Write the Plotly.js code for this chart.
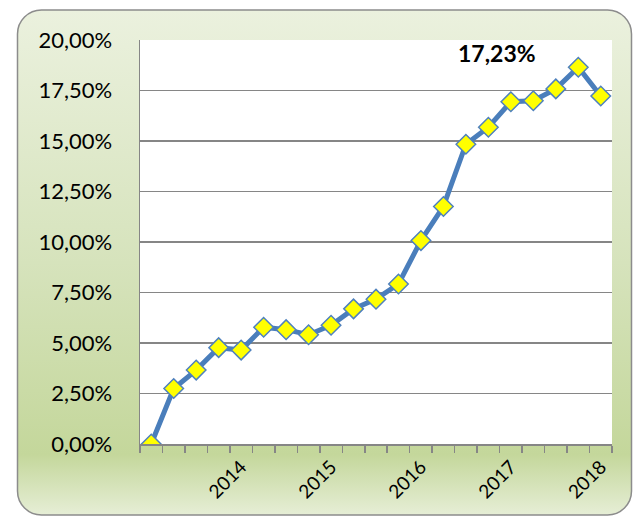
<!DOCTYPE html>
<html>
<head>
<meta charset="utf-8">
<script src="https://cdn.plot.ly/plotly-3.0.1.min.js"></script>
<style>
  html, body { margin: 0; padding: 0; background: #ffffff; }
  #chart { width: 633px; height: 517px; }
</style>
</head>
<body>
<div id="chart"></div>
<script>
// quarterly cumulative return, in percent
const returns = [0, 2.75, 3.66, 4.77, 4.65, 5.78, 5.66, 5.41, 5.88, 6.69, 7.17,
  7.92, 10.07, 11.76, 14.84, 15.68, 16.94, 16.99, 17.58, 18.65, 17.23];
const yearLabels = ['2014', '2015', '2016', '2017', '2018'];
const yearIndex = [4, 8, 12, 16, 20];

const W = 633, H = 517;
const margin = { l: 140, r: 21, t: 40, b: 73 };

const quarters = returns.map((v, i) => i);
const lastValue = returns[returns.length - 1];

/**
 * green gradient frame with rounded corners, drawn as an svg image
 * behind the whole figure
 **/
function frameImage() {
  const svg =
    '<svg xmlns="http://www.w3.org/2000/svg" width="' + W + '" height="' + H + '">' +
    '<defs><linearGradient id="g" x1="0" y1="0" x2="0" y2="1">' +
    '<stop offset="0" stop-color="#ebf1de"/>' +
    '<stop offset="0.5" stop-color="#d6e3bc"/>' +
    '<stop offset="0.88" stop-color="#c4d79b"/>' +
    '<stop offset="1" stop-color="#e6eed6"/>' +
    '</linearGradient></defs>' +
    '<rect x="17.5" y="10" width="614" height="505" rx="24" ry="24" ' +
    'fill="url(#g)" stroke="#8c8c8c" stroke-width="1.5"/>' +
    '</svg>';
  const pw = W - margin.l - margin.r;
  const ph = H - margin.t - margin.b;
  return {
    source: 'data:image/svg+xml;charset=utf-8,' + encodeURIComponent(svg),
    xref: 'paper',
    yref: 'paper',
    x: -margin.l / pw,
    y: 1 + margin.t / ph,
    sizex: W / pw,
    sizey: H / ph,
    xanchor: 'left',
    yanchor: 'top',
    sizing: 'stretch',
    layer: 'below'
  };
}

const trace = {
  x: quarters,
  y: returns.map(v => v / 100),
  type: 'scatter',
  mode: 'lines+markers',
  line: { color: '#4a7ebb', width: 5 },
  marker: {
    symbol: 'diamond',
    size: 15,
    color: '#ffff00',
    line: { color: '#4f81bd', width: 1.5 }
  },
  hoverinfo: 'skip'
};

const layout = {
  width: W,
  height: H,
  margin: margin,
  separators: ',.',
  showlegend: false,
  paper_bgcolor: '#ffffff',
  plot_bgcolor: 'rgba(0,0,0,0)',
  font: { family: 'Lato, sans-serif', color: '#000000' },
  xaxis: {
    range: [-0.5, returns.length - 0.5],
    tickmode: 'array',
    tickvals: yearIndex,
    ticktext: yearLabels,
    tickangle: -45,
    ticks: '',
    ticklabelstandoff: 3,
    tickfont: { size: 19 },
    showgrid: false,
    zeroline: false,
    showline: true,
    linecolor: '#868686',
    linewidth: 1.5,
    minor: {
      tickmode: 'linear',
      tick0: -0.5,
      dtick: 1,
      ticks: 'outside',
      ticklen: 7,
      tickwidth: 1.5,
      tickcolor: '#868686',
      showgrid: false
    },
    fixedrange: true
  },
  yaxis: {
    range: [0, 0.2],
    dtick: 0.025,
    tickformat: '.2%',
    tickfont: { size: 22 },
    ticks: '',
    ticklabelstandoff: 22,
    showgrid: true,
    gridcolor: '#868686',
    gridwidth: 1.5,
    zeroline: false,
    showline: true,
    linecolor: '#868686',
    linewidth: 1.5,
    fixedrange: true
  },
  images: [frameImage()],
  shapes: [{
    type: 'rect',
    xref: 'paper',
    yref: 'paper',
    x0: 0, x1: 1, y0: 0, y1: 1,
    fillcolor: '#ffffff',
    line: { width: 0 },
    layer: 'below'
  }],
  annotations: [{
    x: 15.4,
    y: 0.1936,
    xref: 'x',
    yref: 'y',
    text: '<b>' + lastValue.toFixed(2).replace('.', ',') + '%</b>',
    showarrow: false,
    font: { size: 23, color: '#000000' }
  }]
};

Plotly.newPlot('chart', [trace], layout, { displayModeBar: false, staticPlot: true });
</script>
</body>
</html>
